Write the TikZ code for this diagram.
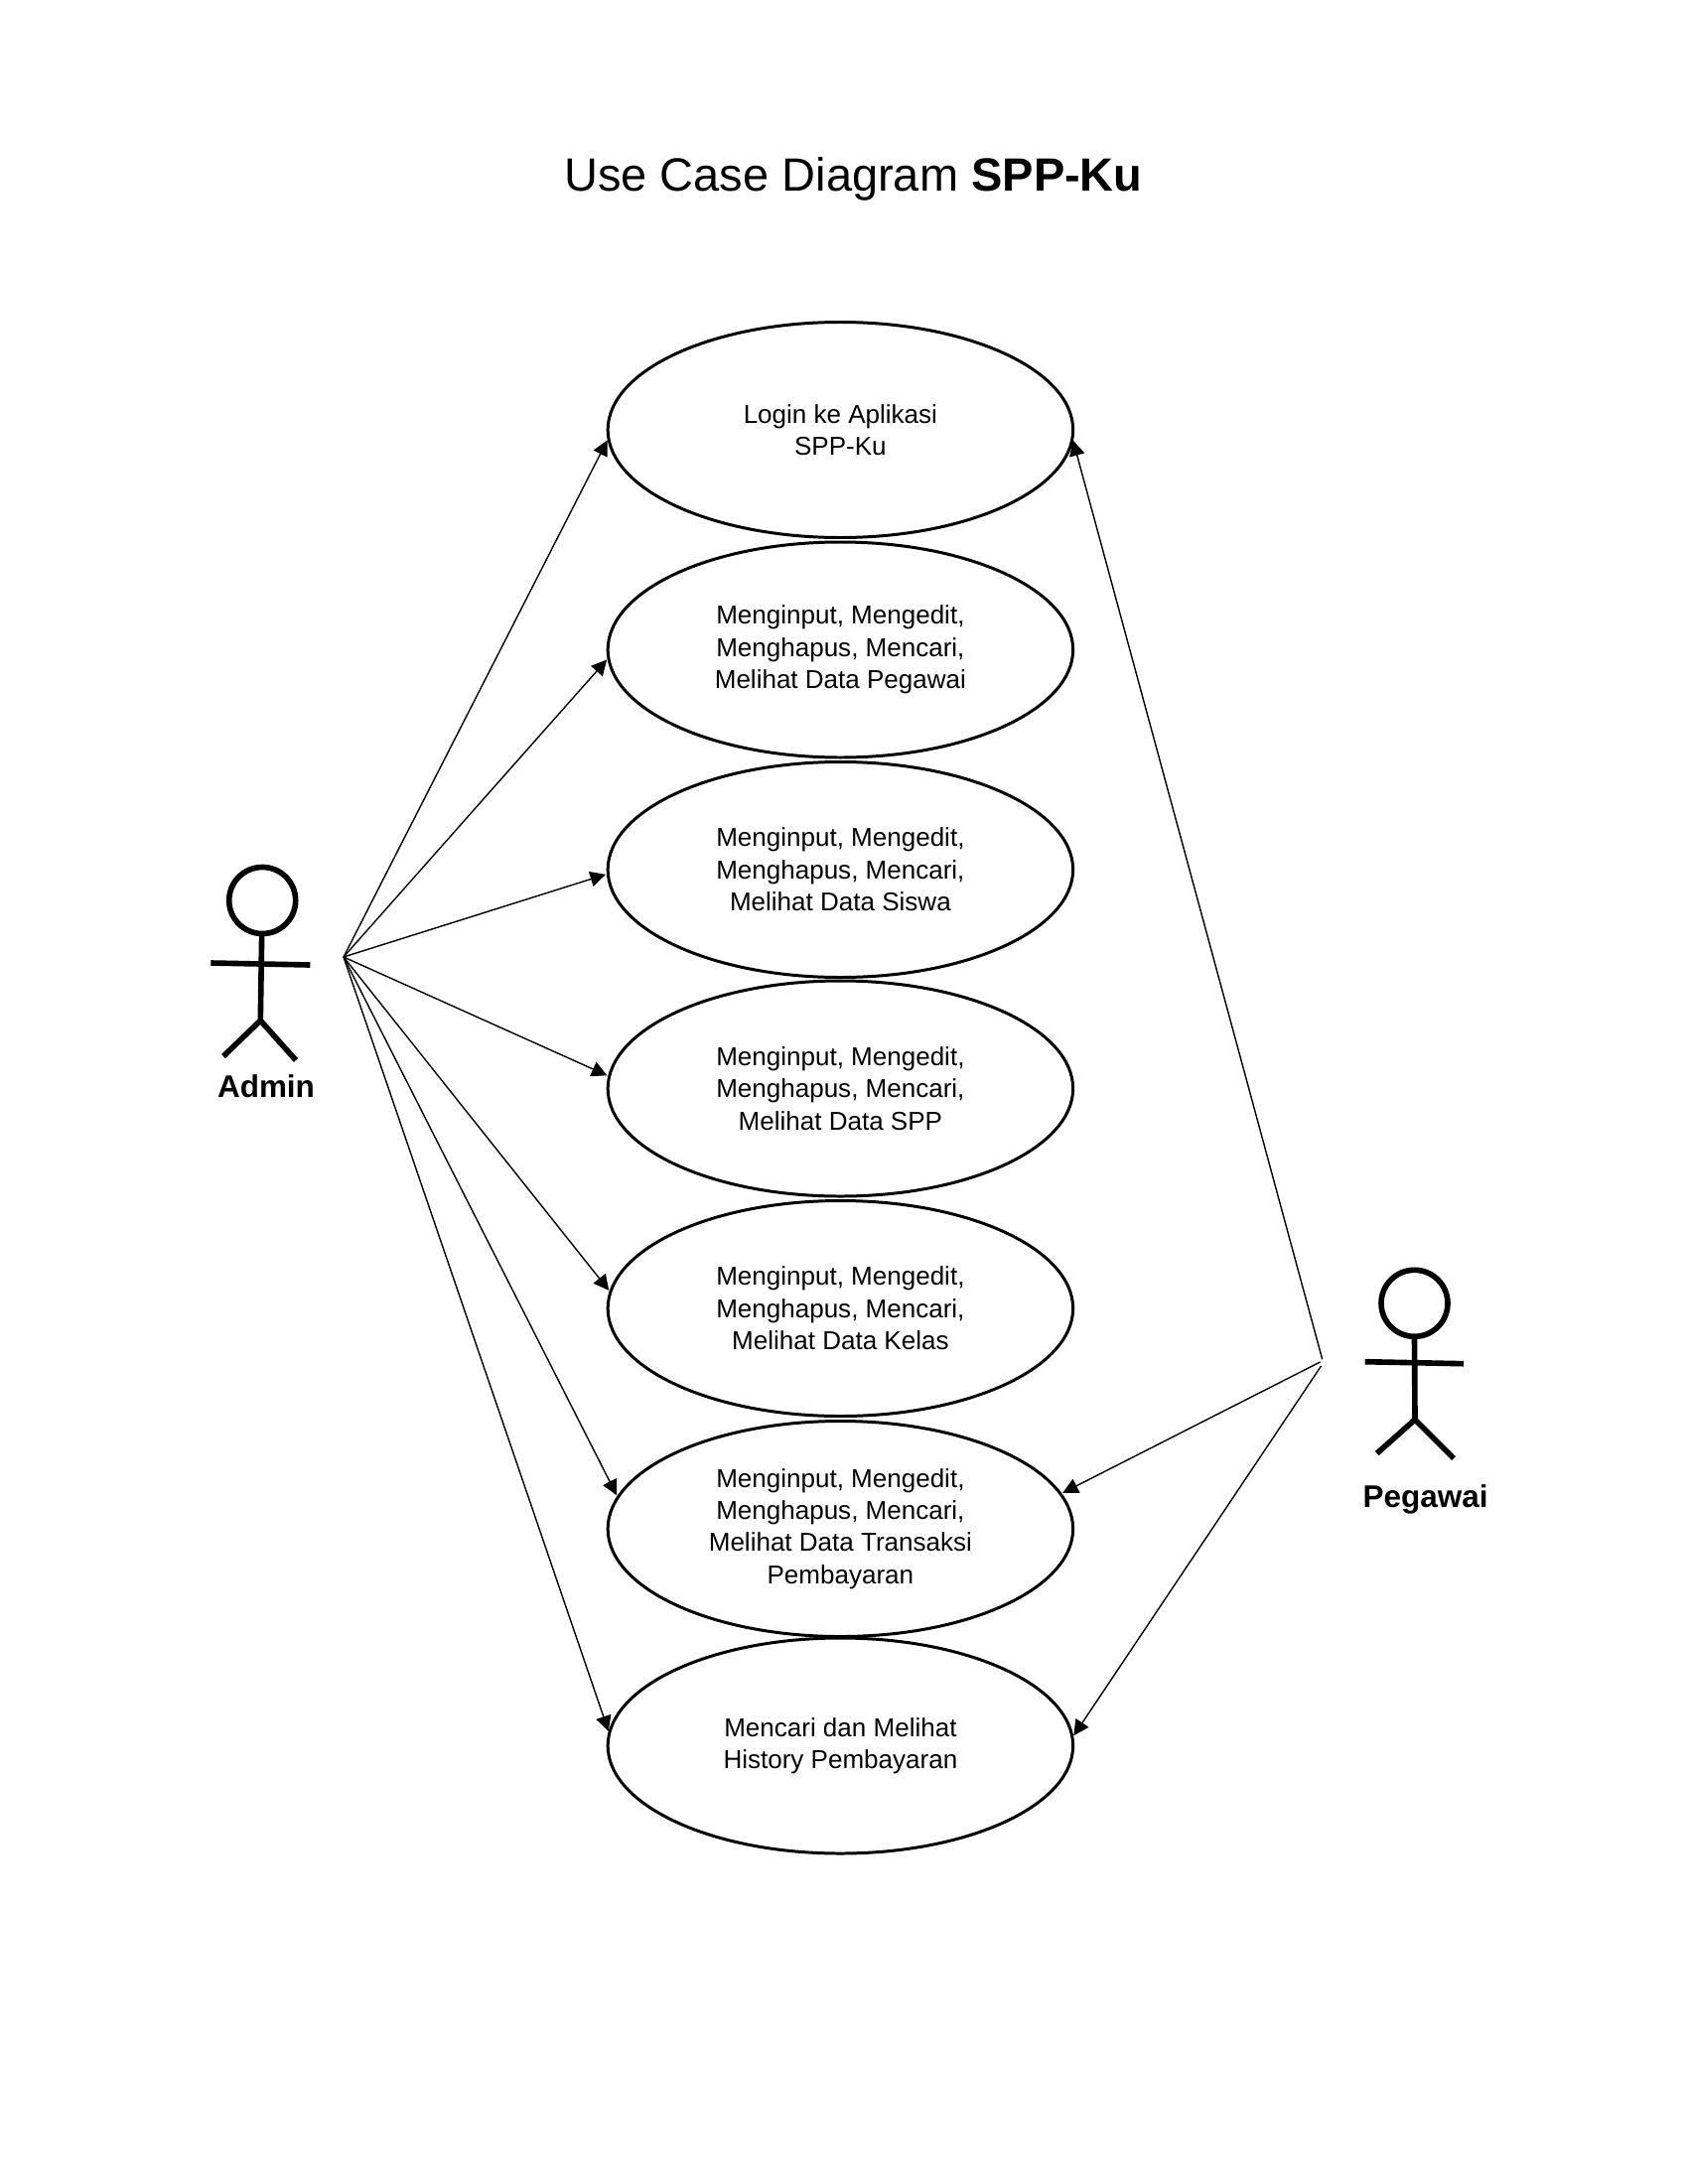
\documentclass[tikz,border=0pt]{standalone}
\usepackage{fontspec}
\setmainfont{Liberation Sans}
\usetikzlibrary{shapes.geometric,arrows.meta}

\begin{document}
\begin{tikzpicture}[x=0.01cm, y=-0.01cm, font=\fontsize{7.4}{9.2}\selectfont,
    usecase/.style={draw, ellipse, line width=0.85pt, outer sep=0pt, minimum width=468.5*0.01cm, minimum height=217*0.01cm, inner sep=0pt, align=center},
    actorhead/.style={draw, circle, line width=1.6pt, outer sep=0pt, minimum size=67*0.01cm, inner sep=0pt},
    actorlabel/.style={font=\fontsize{8.95}{10}\selectfont\bfseries},
    limb/.style={line width=1.6pt},
    assoc/.style={line width=0.4pt, shorten >=0.7pt, -{Triangle[length=4.4pt,width=4.4pt]}}]
  \useasboundingbox (0,0) rectangle (1700,2200);
  \node (title) at (859.5,180) {\fontsize{13.36}{15}\selectfont Use Case Diagram \textbf{SPP-Ku}};
  % use cases
  \node[usecase] (login) at (846.4,433) {Login ke Aplikasi\\SPP-Ku};
  \node[usecase] (datapegawai) at (846.4,654.5) {Menginput, Mengedit,\\Menghapus, Mencari,\\Melihat Data Pegawai};
  \node[usecase] (datasiswa) at (846.4,876) {Menginput, Mengedit,\\Menghapus, Mencari,\\Melihat Data Siswa};
  \node[usecase] (dataspp) at (846.4,1096.5) {Menginput, Mengedit,\\Menghapus, Mencari,\\Melihat Data SPP};
  \node[usecase] (datakelas) at (846.4,1318) {Menginput, Mengedit,\\Menghapus, Mencari,\\Melihat Data Kelas};
  \node[usecase] (transaksi) at (846.4,1540) {Menginput, Mengedit,\\Menghapus, Mencari,\\Melihat Data Transaksi\\Pembayaran};
  \node[usecase] (history) at (846.4,1758.5) {Mencari dan Melihat\\History Pembayaran};
  % admin
  \node[actorhead] (adminhead) at (264.2,907) {};
  \coordinate (adminhip) at (262.3,1028);
  \coordinate (adminhub) at (346,964);
  \draw[limb] (adminhead) -- (adminhip);
  \draw[limb] (212.3,970) -- (312.3,972);
  \draw[limb] (225,1064) -- (adminhip) -- (298,1068);
  \node[actorlabel] (adminlabel) at (268,1094) {Admin};
  % pegawai
  \node[actorhead] (pegawaihead) at (1424.5,1312.8) {};
  \coordinate (pegawaihip) at (1425,1430);
  \coordinate (pegawaitop) at (1331.7,1369.3);
  \coordinate (pegawaimid) at (1329.5,1372);
  \coordinate (pegawailow) at (1330.5,1376);
  \draw[limb] (pegawaihead.south) -- (pegawaihip);
  \draw[limb] (1374.7,1371.7) -- (1474,1373.7);
  \draw[limb] (1386.7,1464) -- (pegawaihip) -- (1464,1469);
  \node[actorlabel] (pegawailabel) at (1435.5,1510) {Pegawai};
  % admin associations
  \draw[assoc] (adminhub) -- (login.182.2);
  \draw[assoc] (adminhub) -- (datapegawai.182.5);
  \draw[assoc] (adminhub) -- (datasiswa.181.4);
  \draw[assoc] (adminhub) -- (dataspp.177.3);
  \draw[assoc] (adminhub) -- (datakelas.176);
  \draw[assoc] (adminhub) -- (transaksi.172.5);
  \draw[assoc] (adminhub) -- (history.177);
  % pegawai associations
  \draw[assoc] (pegawaitop) -- (login.-2.2);
  \draw[assoc] (pegawaimid) -- (transaksi.9.8);
  \draw[assoc] (pegawailow) -- (history.2.5);
\end{tikzpicture}
\end{document}
